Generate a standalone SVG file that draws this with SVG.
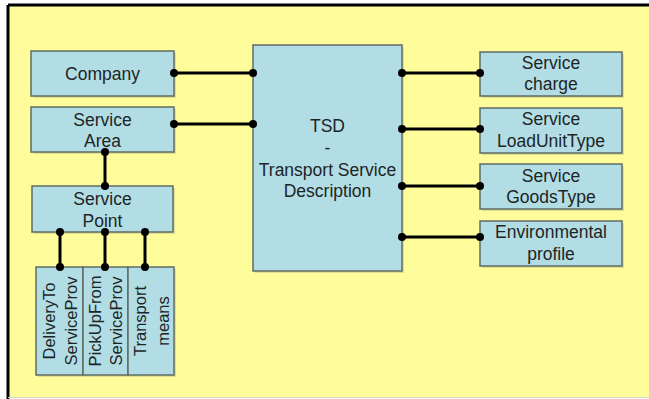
<svg xmlns="http://www.w3.org/2000/svg" width="649" height="399" viewBox="0 0 649 399">
<style>
.box{fill:#B3DDE4;stroke:#5f6b64;stroke-width:1.5}
.sh{fill:#c9c98a;opacity:0.6}
.t{font-family:"Liberation Sans",Arial,sans-serif;font-size:17.5px;fill:#1c2526;text-anchor:middle}
.v{font-size:16.5px}
.c{stroke:#000;stroke-width:3;fill:none}
.d{fill:#000}
</style>
<rect x="0" y="0" width="649" height="399" fill="#ffffff"/>
<rect x="8" y="5" width="641" height="392" fill="#FFFD9B"/>
<line x1="8" y1="5" x2="649" y2="5" stroke="#000" stroke-width="3"/>
<line x1="8" y1="5" x2="8" y2="399" stroke="#000" stroke-width="3"/>
<line x1="8" y1="397.5" x2="649" y2="397.5" stroke="#d8d8c0" stroke-width="1"/>

<g id="company"><rect class="sh" x="33" y="53" width="143" height="45"/><rect class="box" x="31" y="51" width="143" height="45"/><text class="t" x="102.5" y="80">Company</text></g>
<g id="service-area"><rect class="sh" x="33" y="109" width="143" height="45"/><rect class="box" x="31" y="107" width="143" height="45"/><text class="t" x="102.5" y="125.5">Service</text><text class="t" x="102.5" y="147">Area</text></g>
<g id="service-point"><rect class="sh" x="34" y="188" width="141" height="46"/><rect class="box" x="32" y="186" width="141" height="46"/><text class="t" x="102.5" y="205">Service</text><text class="t" x="102.5" y="227">Point</text></g>
<g id="delivery"><rect class="sh" x="38" y="269" width="47" height="108"/><rect class="box" x="36" y="267" width="47" height="108"/><text class="t v" transform="translate(60,321) rotate(-90)"><tspan x="0" y="-5">DeliveryTo</tspan><tspan x="0" y="16.5">ServiceProv</tspan></text></g>
<g id="pickup"><rect class="sh" x="85" y="269" width="45" height="108"/><rect class="box" x="83" y="267" width="45" height="108"/><text class="t v" transform="translate(105.5,321) rotate(-90)"><tspan x="0" y="-5">PickUpFrom</tspan><tspan x="0" y="16.5">ServiceProv</tspan></text></g>
<g id="transport-means"><rect class="sh" x="130" y="269" width="46" height="108"/><rect class="box" x="128" y="267" width="46" height="108"/><text class="t v" transform="translate(151,321) rotate(-90)"><tspan x="0" y="-5">Transport</tspan><tspan x="0" y="17.5">means</tspan></text></g>
<g id="tsd"><rect class="sh" x="255" y="47" width="149" height="226"/><rect class="box" x="253" y="45" width="149" height="226"/><text class="t" x="327.5" y="132">TSD</text><text class="t" x="327.5" y="154">-</text><text class="t" x="327.5" y="176">Transport Service</text><text class="t" x="327.5" y="197">Description</text></g>
<g id="service-charge"><rect class="sh" x="482" y="54" width="142" height="44"/><rect class="box" x="480" y="52" width="142" height="44"/><text class="t" x="551" y="69">Service</text><text class="t" x="551" y="90">charge</text></g>
<g id="service-loadunittype"><rect class="sh" x="482" y="110" width="142" height="45"/><rect class="box" x="480" y="108" width="142" height="45"/><text class="t" x="551" y="125">Service</text><text class="t" x="551" y="147">LoadUnitType</text></g>
<g id="service-goodstype"><rect class="sh" x="482" y="166" width="142" height="45"/><rect class="box" x="480" y="164" width="142" height="45"/><text class="t" x="551" y="182">Service</text><text class="t" x="551" y="203">GoodsType</text></g>
<g id="environmental-profile"><rect class="sh" x="482" y="223" width="142" height="45"/><rect class="box" x="480" y="221" width="142" height="45"/><text class="t" x="551" y="238">Environmental</text><text class="t" x="551" y="260">profile</text></g>

<g id="connectors">
<line class="c" x1="174" y1="73" x2="253" y2="73"/><circle class="d" cx="174" cy="73" r="4"/><circle class="d" cx="253" cy="73" r="4"/>
<line class="c" x1="174" y1="124" x2="253" y2="124"/><circle class="d" cx="174" cy="124" r="4"/><circle class="d" cx="253" cy="124" r="4"/>
<line class="c" x1="105" y1="152" x2="105" y2="186"/><circle class="d" cx="105" cy="152" r="4"/><circle class="d" cx="105" cy="186" r="4"/>
<line class="c" x1="60" y1="232" x2="60" y2="267"/><circle class="d" cx="60" cy="232" r="4"/><circle class="d" cx="60" cy="267" r="4"/>
<line class="c" x1="105" y1="232" x2="105" y2="267"/><circle class="d" cx="105" cy="232" r="4"/><circle class="d" cx="105" cy="267" r="4"/>
<line class="c" x1="145" y1="232" x2="145" y2="267"/><circle class="d" cx="145" cy="232" r="4"/><circle class="d" cx="145" cy="267" r="4"/>
<line class="c" x1="402" y1="73" x2="480" y2="73"/><circle class="d" cx="402" cy="73" r="4"/><circle class="d" cx="480" cy="73" r="4"/>
<line class="c" x1="402" y1="129" x2="480" y2="129"/><circle class="d" cx="402" cy="129" r="4"/><circle class="d" cx="480" cy="129" r="4"/>
<line class="c" x1="402" y1="186" x2="480" y2="186"/><circle class="d" cx="402" cy="186" r="4"/><circle class="d" cx="480" cy="186" r="4"/>
<line class="c" x1="402" y1="237" x2="480" y2="237"/><circle class="d" cx="402" cy="237" r="4"/><circle class="d" cx="480" cy="237" r="4"/>
</g>
</svg>
